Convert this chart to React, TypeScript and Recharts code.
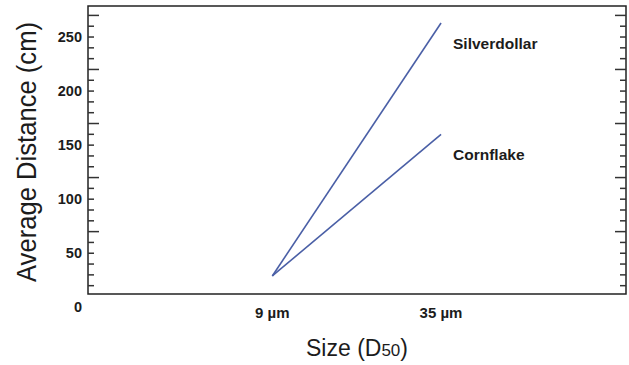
import React from "react";
import { LineChart, Line, XAxis, YAxis, ReferenceArea, Label } from "recharts";

// particle size D50 (µm) and average travel distance (cm)
const sizes = [9, 35];
const silverdollar = [29, 263];
const cornflake = [29, 160];

const xTicks = [9, 35];
const yLabels = [0, 50, 100, 150, 200, 250];
const yMarks = [20, 30, 40, 50, 60, 70, 80, 90, 100, 110, 120, 130, 140, 150, 160, 170, 180, 190, 200, 210, 220, 230, 240, 250, 260, 270];
const yMajorMarks = [70, 120, 170, 220, 270];

const X_DOMAIN: [number, number] = [-19.4, 63.5];
const Y_DOMAIN: [number, number] = [12.3, 278.7];

const data = sizes.map((s, i) => ({
  size: s,
  silverdollar: silverdollar[i],
  cornflake: cornflake[i],
}));

const INK = "#1c1c1c";
const LINE = "#4a5fa6";

function LeftTick({ x, y, payload }: any) {
  const v = payload.value;
  return (
    <g>
      {yMarks.includes(v) && (
        <line x1={x} x2={x + (yMajorMarks.includes(v) ? 11 : 6)} y1={y} y2={y} stroke="#333" strokeWidth={1.5} />
      )}
      {yLabels.includes(v) && (
        <text x={x - 6} y={y} dy={5} textAnchor="end" fontSize={14.5} fontWeight={700} fill={INK}>
          {v}
        </text>
      )}
    </g>
  );
}

function RightTick({ x, y, payload }: any) {
  const v = payload.value;
  return (
    <line x1={x} x2={x - (yMajorMarks.includes(v) ? 11 : 6)} y1={y} y2={y} stroke="#333" strokeWidth={1.5} />
  );
}

function EndLabel({ x, y, index, text }: any) {
  if (index !== sizes.length - 1) return null;
  return (
    <text x={x + 12} y={y + 26} fontSize={15.5} fontWeight={700} fill={INK}>
      {text}
    </text>
  );
}

function YTitle({ viewBox }: any) {
  const cx = 36;
  const cy = viewBox.y + viewBox.height / 2 + 2;
  return (
    <text
      x={cx}
      y={cy}
      transform={`rotate(-90 ${cx} ${cy})`}
      textAnchor="middle"
      fontSize={27}
      textLength={260}
      lengthAdjust="spacingAndGlyphs"
      fill={INK}
    >
      Average Distance (cm)
    </text>
  );
}

function XTitle({ viewBox }: any) {
  const cx = viewBox.x + viewBox.width / 2;
  const by = viewBox.y + 62;
  return (
    <text x={cx} y={by} textAnchor="middle" fontSize={23} fill={INK}>
      Size (D<tspan fontSize={17}>50</tspan>)
    </text>
  );
}

export default function App() {
  return (
    <div style={{ position: "absolute", left: 0, top: 0, fontFamily: "Arial, 'Liberation Sans', sans-serif" }}>
      <LineChart width={629} height={365} data={data} margin={{ top: 6, right: 0, bottom: 0, left: 0 }}>
        <XAxis
          dataKey="size"
          type="number"
          domain={X_DOMAIN}
          allowDataOverflow
          ticks={xTicks}
          interval={0}
          tickFormatter={(v) => `${v} µm`}
          tick={{ fontSize: 15, fontWeight: 700, fill: INK }}
          tickLine={false}
          axisLine={false}
          tickSize={0}
          tickMargin={13}
          height={71}
        >
          <Label content={<XTitle />} />
        </XAxis>
        <YAxis
          yAxisId="left"
          type="number"
          domain={Y_DOMAIN}
          allowDataOverflow
          ticks={[0, ...yMarks]}
          interval={0}
          tick={<LeftTick />}
          tickLine={false}
          axisLine={false}
          tickSize={0}
          tickMargin={0}
          width={88}
        >
          <Label content={<YTitle />} />
        </YAxis>
        <YAxis
          yAxisId="right"
          orientation="right"
          type="number"
          domain={Y_DOMAIN}
          allowDataOverflow
          ticks={yMarks}
          interval={0}
          tick={<RightTick />}
          tickLine={false}
          axisLine={false}
          tickSize={0}
          tickMargin={0}
          width={3}
        />
        <ReferenceArea
          yAxisId="left"
          x1={X_DOMAIN[0]}
          x2={X_DOMAIN[1]}
          y1={Y_DOMAIN[0]}
          y2={Y_DOMAIN[1]}
          fill="none"
          stroke="#222"
          strokeWidth={1.5}
          fillOpacity={0}
        />
        <Line
          yAxisId="left"
          type="linear"
          dataKey="silverdollar"
          stroke={LINE}
          strokeWidth={1.6}
          dot={false}
          isAnimationActive={false}
          label={<EndLabel text="Silverdollar" />}
        />
        <Line
          yAxisId="left"
          type="linear"
          dataKey="cornflake"
          stroke={LINE}
          strokeWidth={1.6}
          dot={false}
          isAnimationActive={false}
          label={<EndLabel text="Cornflake" />}
        />
      </LineChart>
    </div>
  );
}
